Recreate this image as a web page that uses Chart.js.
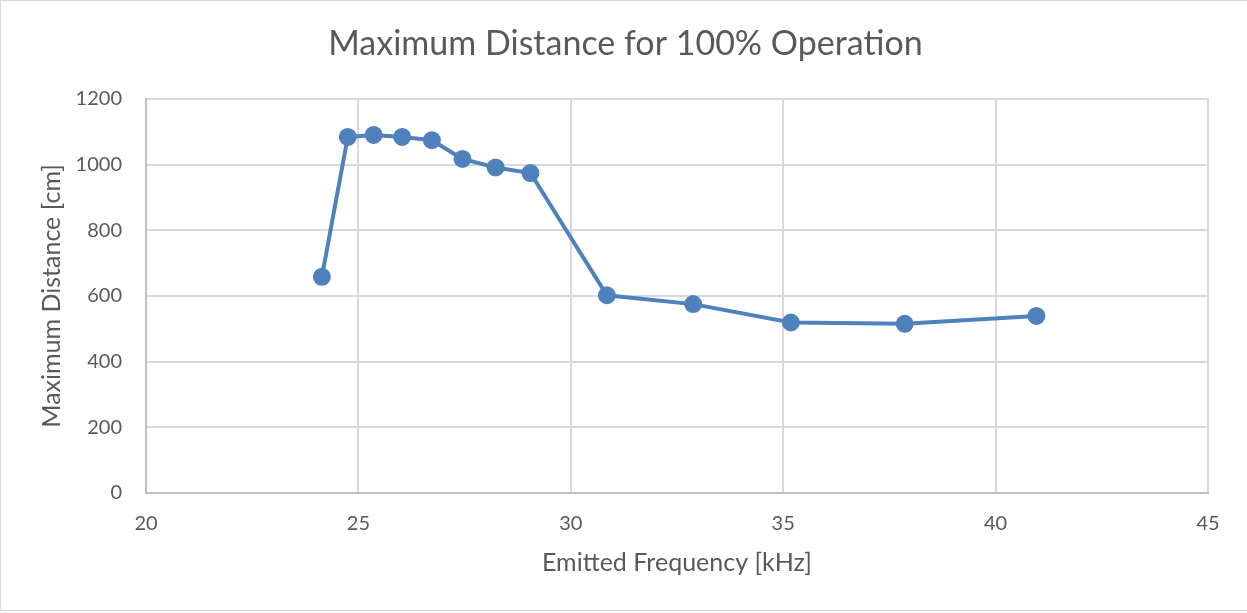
<!DOCTYPE html>
<html>
<head>
<meta charset="utf-8">
<script src="https://cdn.jsdelivr.net/npm/chart.js@4"></script>
<style>
  html, body { margin: 0; padding: 0; background: #fff; }
  #wrap {
    position: absolute; left: 0; top: 0;
    width: 1260px; height: 611px;
    border: 1px solid #d9d9d9;
    box-sizing: border-box;
  }
  canvas { position: absolute; left: 0; top: 0; }
</style>
</head>
<body>
<div id="wrap"></div>
<canvas id="chart" width="1247" height="613"></canvas>
<script>
// emitted frequency (kHz) and max distance (cm)
const frequency = [24.14, 24.75, 25.36, 26.03, 26.73, 27.45, 28.23, 29.05, 30.85, 32.88, 35.18, 37.86, 40.96];
const distance = [658, 1084, 1090, 1084, 1074, 1017, 991, 974, 602, 575, 519, 515, 539];
const xTicks = [20, 25, 30, 35, 40, 45];
const yTicks = [0, 200, 400, 600, 800, 1000, 1200];

const textColor = "#595959";
const lineColor = "#4f81bd";

const points = frequency.map((f, i) => ({ x: f, y: distance[i] }));

new Chart(document.getElementById("chart"), {
  type: "scatter",
  data: {
    datasets: [{
      data: points,
      showLine: true,
      borderColor: lineColor,
      backgroundColor: lineColor,
      borderWidth: 4,
      pointRadius: 7,
      pointHoverRadius: 7,
      tension: 0
    }]
  },
  options: {
    responsive: false,
    animation: false,
    // left padding shifts the centred title; y scale width makes up the rest
    layout: { padding: { left: 43, right: 39, top: 0, bottom: 0 } },
    plugins: {
      legend: { display: false },
      tooltip: { enabled: false },
      title: {
        display: true,
        text: "Maximum Distance for 100% Operation",
        color: textColor,
        font: { family: "Lato", size: 34, weight: "normal" },
        padding: { top: 24, bottom: 34 }
      }
    },
    scales: {
      x: {
        type: "linear",
        min: 20,
        max: 45,
        afterBuildTicks: s => { s.ticks = xTicks.map(v => ({ value: v })); },
        afterFit: s => { s.height = 120; },
        grid: { color: "#d9d9d9", lineWidth: 2, drawTicks: false },
        border: { color: "#bfbfbf", width: 2 },
        ticks: {
          color: textColor,
          font: { family: "Lato", size: 20 },
          padding: 19,
          maxRotation: 0,
          callback: v => String(v)
        },
        title: {
          display: true,
          text: "Emitted Frequency [kHz]",
          color: textColor,
          font: { family: "Lato", size: 25 },
          padding: { top: 0, bottom: 35 }
        }
      },
      y: {
        min: 0,
        max: 1200,
        afterBuildTicks: s => { s.ticks = yTicks.map(v => ({ value: v })); },
        afterFit: s => { s.width = 103; },
        grid: { color: "#d9d9d9", lineWidth: 2, drawTicks: false },
        border: { color: "#bfbfbf", width: 2 },
        ticks: {
          color: textColor,
          font: { family: "Lato", size: 20 },
          padding: 24,
          callback: v => String(v)
        },
        title: {
          display: true,
          text: "Maximum Distance [cm]",
          color: textColor,
          font: { family: "Lato", size: 25 },
          padding: { top: -6, bottom: 0 }
        }
      }
    }
  }
});
</script>
</body>
</html>
